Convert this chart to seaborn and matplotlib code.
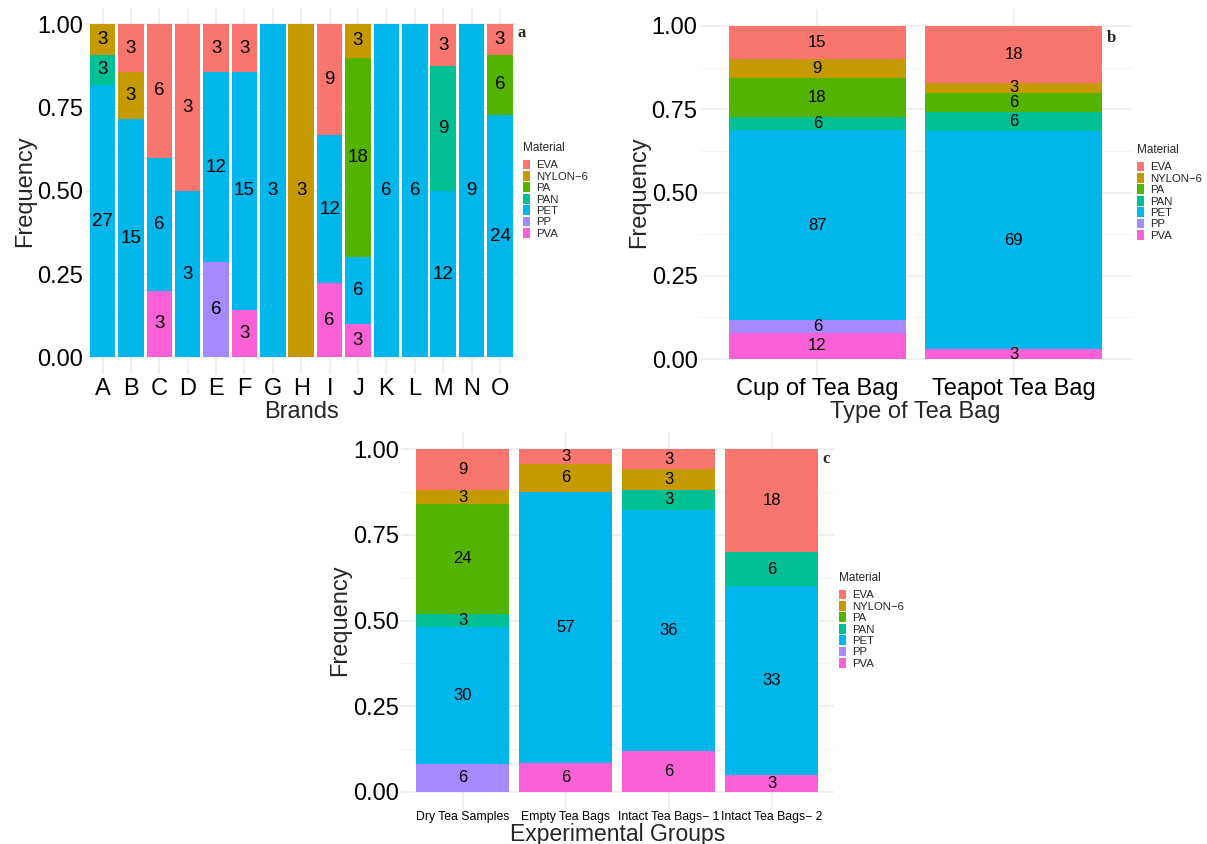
import numpy as np
import pandas as pd
import matplotlib
matplotlib.use("Agg")
import matplotlib.pyplot as plt
import seaborn as sns
from matplotlib.patches import Patch
from matplotlib.ticker import MultipleLocator

# ---- materials and their fill colours ----
materials = ["EVA", "NYLON-6", "PA", "PAN", "PET", "PP", "PVA"]
material_colors = ["#F8766D", "#C49A00", "#53B400", "#00C094", "#00B6EB", "#A58AFF", "#FB61D7"]
legend_labels = ["EVA", "NYLON\u22126", "PA", "PAN", "PET", "PP", "PVA"]

# ---- (a) particle counts per brand ----
brands = list("ABCDEFGHIJKLMNO")
brand_eva = [0, 3, 6, 3, 3, 3, 0, 0, 9, 0, 0, 0, 3, 0, 3]
brand_nylon = [3, 3, 0, 0, 0, 0, 0, 3, 0, 3, 0, 0, 0, 0, 0]
brand_pa = [0, 0, 0, 0, 0, 0, 0, 0, 0, 18, 0, 0, 0, 0, 6]
brand_pan = [3, 0, 0, 0, 0, 0, 0, 0, 0, 0, 0, 0, 9, 0, 0]
brand_pet = [27, 15, 6, 3, 12, 15, 3, 0, 12, 6, 6, 6, 12, 9, 24]
brand_pp = [0, 0, 0, 0, 6, 0, 0, 0, 0, 0, 0, 0, 0, 0, 0]
brand_pva = [0, 0, 3, 0, 0, 3, 0, 0, 6, 3, 0, 0, 0, 0, 0]

# ---- (b) particle counts per tea bag type ----
bag_types = ["Cup of Tea Bag", "Teapot Tea Bag"]
bag_eva = [15, 18]
bag_nylon = [9, 3]
bag_pa = [18, 6]
bag_pan = [6, 6]
bag_pet = [87, 69]
bag_pp = [6, 0]
bag_pva = [12, 3]

# ---- (c) particle counts per experimental group ----
exp_groups = ["Dry Tea Samples", "Empty Tea Bags", "Intact Tea Bags\u2212 1", "Intact Tea Bags\u2212 2"]
exp_eva = [9, 3, 3, 18]
exp_nylon = [3, 6, 3, 0]
exp_pa = [24, 0, 0, 0]
exp_pan = [3, 0, 3, 6]
exp_pet = [30, 57, 36, 33]
exp_pp = [6, 0, 0, 0]
exp_pva = [0, 6, 6, 3]


def long_frame(groups, per_material):
    rows = []
    for mat, vals in zip(materials, per_material):
        for g, v in zip(groups, vals):
            if v > 0:
                rows.append((g, mat, v))
    df = pd.DataFrame(rows, columns=["Group", "Material", "Count"])
    df["Group"] = pd.Categorical(df["Group"], categories=groups, ordered=True)
    return df


sns.set_style("white")
plt.rcParams["font.family"] = ["Liberation Sans", "DejaVu Sans"]
plt.rcParams["axes.unicode_minus"] = True

W, H = 1207, 844
fig = plt.figure(figsize=(W / 100, H / 100), dpi=100)


def rect(l, r, t, b):
    return [l / W, 1 - b / H, (r - l) / W, (b - t) / H]


def draw_panel(ax, groups, per_material, xlabel, tick_size, label_size,
               xtick_pad, xlabel_pad, xlabel_size=17):
    df = long_frame(groups, per_material)
    sns.histplot(data=df, x="Group", hue="Material", weights="Count",
                 hue_order=materials, palette=material_colors,
                 multiple="fill", discrete=True, shrink=0.9, alpha=1,
                 edgecolor="none", linewidth=0, legend=False, ax=ax)

    # centre of each stacked segment (first material sits on top)
    df["rank"] = df["Material"].map({m: i for i, m in enumerate(materials)})
    df["prop"] = df["Count"] / df.groupby("Group", observed=True)["Count"].transform("sum")
    df = df.sort_values(["Group", "rank"], ascending=[True, False])
    df["top"] = df.groupby("Group", observed=True)["prop"].cumsum()
    df["mid"] = df["top"] - df["prop"] / 2
    for _, row in df.iterrows():
        ax.text(groups.index(row["Group"]), row["mid"], str(row["Count"]),
                ha="center", va="center", fontsize=label_size, color="black")

    n = len(groups)
    ax.set_xlim(-0.6, n - 1 + 0.6)
    ax.set_ylim(-0.05, 1.05)
    ax.set_xticks(range(n), groups)
    ax.yaxis.set_major_locator(MultipleLocator(0.25))
    ax.yaxis.set_minor_locator(MultipleLocator(0.125))
    ax.set_yticks([0, 0.25, 0.5, 0.75, 1.0], ["0.00", "0.25", "0.50", "0.75", "1.00"])
    ax.set_axisbelow(True)
    ax.grid(which="major", color="#EBEBEB", linewidth=1.1)
    ax.grid(which="minor", axis="y", color="#F2F2F2", linewidth=0.6)
    for s in ax.spines.values():
        s.set_visible(False)
    ax.tick_params(axis="x", length=0, pad=xtick_pad, labelsize=tick_size, colors="black")
    ax.tick_params(axis="y", which="both", length=0, pad=1.5, labelsize=17, colors="black")
    ax.set_xlabel(xlabel, fontsize=xlabel_size, labelpad=xlabel_pad)
    ax.set_ylabel("Frequency", fontsize=17, labelpad=1)


def add_legend(x, y):
    handles = [Patch(facecolor=c, edgecolor="none", linewidth=0) for c in material_colors]
    leg = fig.legend(handles, legend_labels, title="Material", loc="upper left",
                     bbox_to_anchor=(x / W, 1 - y / H), bbox_transform=fig.transFigure,
                     frameon=False, fontsize=8.2, title_fontsize=8.5,
                     handlelength=0.65, handleheight=0.95, handletextpad=0.5,
                     labelspacing=0.05, borderpad=0, borderaxespad=0, alignment="left")
    # gap between the title and the first key
    leg._legend_box.sep = 4.0
    return leg


ax_a = fig.add_axes(rect(85.5, 517, 7.65, 373.95))
draw_panel(ax_a, brands,
           [brand_eva, brand_nylon, brand_pa, brand_pan, brand_pet, brand_pp, brand_pva],
           "Brands", 17, 13.5, 3, 0.5)

ax_b = fig.add_axes(rect(699.6, 1131.6, 9.35, 375.65))
draw_panel(ax_b, bag_types,
           [bag_eva, bag_nylon, bag_pa, bag_pan, bag_pet, bag_pp, bag_pva],
           "Type of Tea Bag", 17, 12, 2, 0.5)

ax_c = fig.add_axes(rect(401, 833.6, 432.2, 808.8))
draw_panel(ax_c, exp_groups,
           [exp_eva, exp_nylon, exp_pa, exp_pan, exp_pet, exp_pp, exp_pva],
           "Experimental Groups", 8.8, 12, 1.5, 0.0, xlabel_size=16.5)

add_legend(523, 142)
add_legend(1137, 144)
add_legend(839, 572)

# panel tags
for tag, x, y in [("a", 521.5, 37), ("b", 1111, 42), ("c", 826.5, 463)]:
    fig.text(x / W, 1 - y / H, tag, ha="center", va="baseline",
             fontsize=12, fontweight="bold", family="Liberation Serif")

fig.savefig("out.png", dpi=100)
